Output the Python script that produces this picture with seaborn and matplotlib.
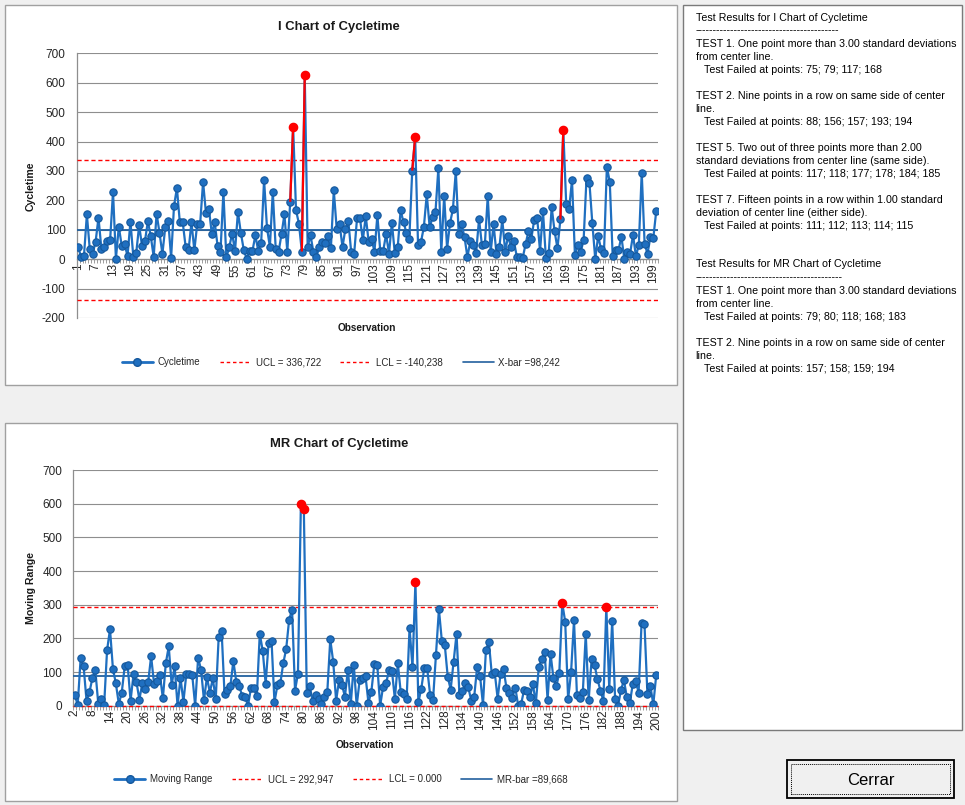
import numpy as np
import pandas as pd
import matplotlib
matplotlib.use("Agg")
import matplotlib.pyplot as plt
import seaborn as sns
from matplotlib.lines import Line2D
from matplotlib.patches import Rectangle
from matplotlib.ticker import MultipleLocator, FixedLocator

# ---------------- data ----------------
observation = list(range(1, 201))
cycletime = [
    40, 9, 11, 152, 34, 19, 59, 141, 36, 42,
    62, 64, 229, 2, 111, 45, 50, 11, 128, 7,
    22, 115, 44, 62, 129, 78, 8, 155, 90, 18,
    109, 131, 5, 181, 242, 125, 125, 42, 30, 125,
    30, 121, 121, 263, 156, 172, 87, 126, 45, 26,
    229, 6, 40, 87, 28, 161, 90, 32, 2, 28,
    28, 81, 28, 56, 270, 107, 42, 229, 36, 25,
    85, 152, 26, 195, 451, 166, 121, 26, 626, 42,
    81, 23, 8, 40, 59, 54, 79, 37, 234, 103,
    118, 42, 103, 130, 23, 17, 139, 139, 64, 147,
    59, 68, 26, 149, 28, 28, 85, 19, 124, 20,
    40, 166, 126, 90, 70, 301, 415, 48, 58, 109,
    220, 109, 142, 160, 310, 24, 216, 36, 122, 170,
    299, 86, 118, 75, 7, 62, 47, 22, 136, 47,
    50, 214, 24, 118, 19, 40, 135, 26, 79, 40,
    62, 8, 8, 3, 50, 95, 70, 134, 141, 27,
    165, 5, 22, 177, 95, 37, 135, 439, 189, 170,
    269, 15, 47, 25, 65, 277, 260, 122, 1, 79,
    34, 20, 314, 263, 11, 30, 30, 77, 1, 26,
    19, 83, 10, 49, 294, 52, 18, 77, 73, 164,
]
i_ucl, i_lcl, i_xbar = 336.722, -140.238, 98.242
mr_ucl, mr_lcl, mr_bar = 292.947, 0.000, 89.668
i_failed = [75, 79, 117, 168]            # TEST 1, I chart
mr_failed = [79, 80, 118, 168, 183]      # TEST 1, MR chart
i_ticks = list(range(1, 200, 6))
mr_ticks = list(range(2, 201, 6))

i_legend = ["Cycletime", "UCL = 336,722", "LCL = -140,238", "X-bar =98,242"]
mr_legend = ["Moving Range", "UCL = 292,947", "LCL = 0.000", "MR-bar =89,668"]

dash = "-" * 41
report_lines = [
    (18, 0, "Test Results for I Chart of Cycletime"),
    (30, 0, dash),
    (44, 0, "TEST 1. One point more than 3.00 standard deviations"),
    (57, 0, "from center line."),
    (70, 1, "Test Failed at points: 75; 79; 117; 168"),
    (96, 0, "TEST 2. Nine points in a row on same side of center"),
    (109, 0, "line."),
    (122, 1, "Test Failed at points: 88; 156; 157; 193; 194"),
    (148, 0, "TEST 5. Two out of three points more than 2.00"),
    (161, 0, "standard deviations from center line (same side)."),
    (174, 1, "Test Failed at points: 117; 118; 177; 178; 184; 185"),
    (200, 0, "TEST 7. Fifteen points in a row within 1.00 standard"),
    (213, 0, "deviation of center line (either side)."),
    (226, 1, "Test Failed at points: 111; 112; 113; 114; 115"),
    (264, 0, "Test Results for MR Chart of Cycletime"),
    (277, 0, dash + "-"),
    (291, 0, "TEST 1. One point more than 3.00 standard deviations"),
    (304, 0, "from center line."),
    (317, 1, "Test Failed at points: 79; 80; 118; 168; 183"),
    (343, 0, "TEST 2. Nine points in a row on same side of center"),
    (356, 0, "line."),
    (369, 1, "Test Failed at points: 157; 158; 159; 194"),
]

# ---------------- style ----------------
sns.set_theme(style="white")
plt.rcParams['font.family'] = ['Liberation Sans', 'DejaVu Sans']
plt.rcParams['axes.unicode_minus'] = False

BLUE = '#1f6fc0'
EDGE = '#15589c'
CL = '#22609e'
RED = '#ff0000'
GRID = '#8e8e8e'
AXIS = '#8e8e8e'

W, H = 965, 805
fig = plt.figure(figsize=(W / 100, H / 100), dpi=100, facecolor='#f0f0f0')


def fx(px):
    return px / W


def fy(py):
    return 1 - py / H


def box(x0, y0, x1, y1, face='white', edge='#a0a0a0', lw=1.0, ls='-', z=-5):
    r = Rectangle((fx(x0), fy(y1)), (x1 - x0) / W, (y1 - y0) / H,
                  transform=fig.transFigure, facecolor=face, edgecolor=edge,
                  lw=lw, ls=ls, zorder=z)
    fig.add_artist(r)


# panels
box(5, 5, 677, 385)
box(5, 423, 677, 801)
box(683, 5, 962, 730, edge='#7a7a7a')
# button
box(787, 760, 954, 798, face='#f0f0f0', edge='black', lw=1.3, z=1)
box(791, 764, 950, 794, face='none', edge='black', lw=0.7, ls=(0, (1, 1)), z=2)
fig.text(fx(870.5), fy(780), "Cerrar", ha='center', va='center', fontsize=12, color='black')

# ---------------- I chart ----------------
df_i = pd.DataFrame({'Observation': observation, 'Cycletime': cycletime})
ax1 = fig.add_axes([fx(76.7), fy(318), (657.7 - 76.7) / W, (318 - 53.3) / H])
sns.lineplot(data=df_i, x='Observation', y='Cycletime', ax=ax1, color=BLUE, lw=1.6,
             marker='o', markersize=5.3, markerfacecolor=BLUE, markeredgecolor=EDGE,
             markeredgewidth=0.8, zorder=4)
for k in i_failed:
    ax1.plot([observation[k - 2], observation[k - 1]], [cycletime[k - 2], cycletime[k - 1]],
             color=RED, lw=1.6, zorder=5, solid_capstyle='butt')
sns.scatterplot(x=[observation[k - 1] for k in i_failed], y=[cycletime[k - 1] for k in i_failed],
                ax=ax1, color=RED, s=48, edgecolor=RED, linewidth=0, zorder=6)
ax1.axhline(i_ucl, color=RED, lw=1.0, ls=(0, (3, 2)), zorder=3)
ax1.axhline(i_lcl, color=RED, lw=1.0, ls=(0, (3, 2)), zorder=3)
ax1.axhline(i_xbar, color=CL, lw=1.3, zorder=3)
ax1.set_xlim(0.5, 200.5)
ax1.set_ylim(-200, 700)
ax1.xaxis.set_major_locator(FixedLocator(i_ticks))
ax1.spines['bottom'].set_position(('data', 0))

# ---------------- MR chart ----------------
moving_range = np.abs(np.diff(np.array(cycletime, dtype=float)))
obs_mr = observation[1:]
df_mr = pd.DataFrame({'Observation': obs_mr, 'Moving Range': moving_range})
ax2 = fig.add_axes([fx(73.3), fy(705.7), (657.7 - 73.3) / W, (705.7 - 470) / H])
sns.lineplot(data=df_mr, x='Observation', y='Moving Range', ax=ax2, color=BLUE, lw=1.6,
             marker='o', markersize=5.3, markerfacecolor=BLUE, markeredgecolor=EDGE,
             markeredgewidth=0.8, zorder=4)
sns.scatterplot(x=[k for k in mr_failed], y=[moving_range[k - 2] for k in mr_failed],
                ax=ax2, color=RED, s=48, edgecolor=RED, linewidth=0, zorder=6)
ax2.axhline(mr_ucl, color=RED, lw=1.0, ls=(0, (3, 2)), zorder=3)
ax2.axhline(mr_lcl, color=RED, lw=1.0, ls=(0, (3, 2)), zorder=3, clip_on=False)
ax2.axhline(mr_bar, color=CL, lw=1.3, zorder=3)
ax2.set_xlim(1.5, 200.5)
ax2.set_ylim(0, 700)
ax2.xaxis.set_major_locator(FixedLocator(mr_ticks))

for ax in (ax1, ax2):
    ax.set_facecolor('white')
    for s in ('top', 'right'):
        ax.spines[s].set_visible(False)
    for s in ('left', 'bottom'):
        ax.spines[s].set_color(AXIS)
        ax.spines[s].set_linewidth(0.9)
    ax.grid(axis='y', color=GRID, lw=0.8)
    ax.grid(axis='x', visible=False)
    ax.set_axisbelow(True)
    ax.yaxis.set_major_locator(MultipleLocator(100))
    ax.xaxis.set_minor_locator(FixedLocator(np.arange(0.5, 201, 1)))
    ax.tick_params(axis='y', length=0, labelsize=8.5, pad=8, labelcolor='#262626')
    ax.tick_params(axis='x', which='major', length=0, labelsize=8.5, labelrotation=90,
                   pad=3, labelcolor='#262626')
    ax.tick_params(axis='x', which='minor', length=3, color=AXIS, width=0.6, bottom=True)
    ax.set_xlabel('')
    ax.set_ylabel('')

# titles and axis labels
fig.text(fx(339), fy(27), "I Chart of Cycletime", ha='center', va='center',
         fontsize=9.4, fontweight='bold', color='#1a1a1a')
fig.text(fx(339), fy(444), "MR Chart of Cycletime", ha='center', va='center',
         fontsize=9.4, fontweight='bold', color='#1a1a1a')
fig.text(fx(31), fy(186), "Cycletime", rotation=90, ha='center', va='center',
         fontsize=7.6, fontweight='bold', color='#1a1a1a')
fig.text(fx(31), fy(588), "Moving Range", rotation=90, ha='center', va='center',
         fontsize=7.6, fontweight='bold', color='#1a1a1a')
fig.text(fx(367), fy(328), "Observation", ha='center', va='center',
         fontsize=7.2, fontweight='bold', color='#1a1a1a')
fig.text(fx(365), fy(745), "Observation", ha='center', va='center',
         fontsize=7.2, fontweight='bold', color='#1a1a1a')


def legend_handles():
    return [
        Line2D([], [], color=BLUE, lw=2.0, marker='o', markersize=5.5,
               markerfacecolor=BLUE, markeredgecolor=EDGE),
        Line2D([], [], color=RED, lw=1.0, ls=(0, (2.5, 2))),
        Line2D([], [], color=RED, lw=1.0, ls=(0, (2.5, 2))),
        Line2D([], [], color=CL, lw=1.2),
    ]


for labels, ypx in ((i_legend, 362), (mr_legend, 779)):
    fig.legend(legend_handles(), labels, loc='center', bbox_to_anchor=(fx(341), fy(ypx)),
               ncol=4, frameon=False, fontsize=7, handlelength=3.2, handletextpad=0.5,
               columnspacing=2.0, labelcolor='#262626')

# test results text panel
for ypx, indent, txt in report_lines:
    fig.text(fx(703.5 if indent else 695.5), fy(ypx), txt, ha='left', va='center',
             fontsize=7.65, color='black')

fig.savefig('out.png', dpi=100, facecolor=fig.get_facecolor())
